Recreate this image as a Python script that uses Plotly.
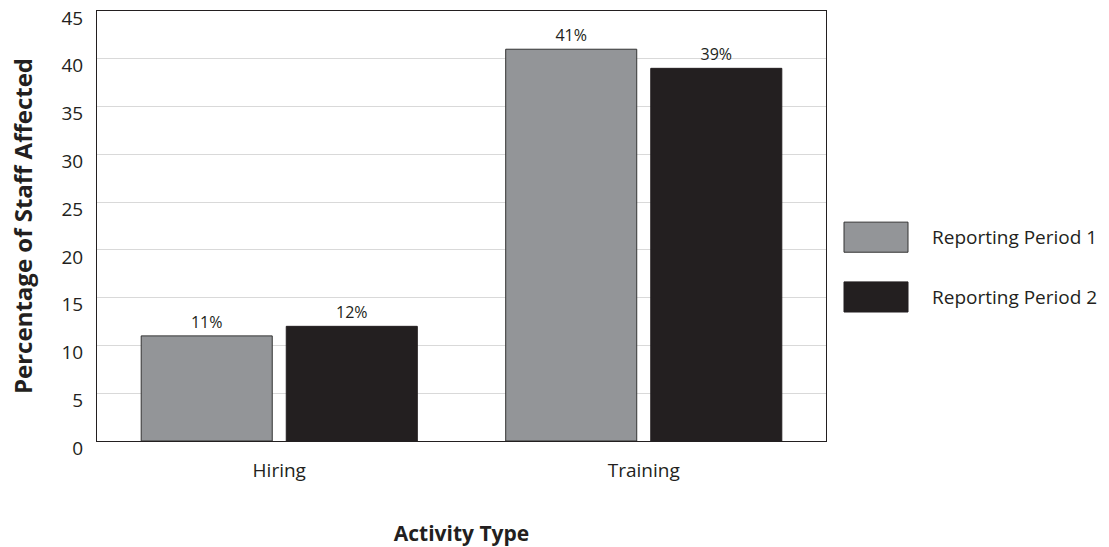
import plotly.graph_objects as go

# Chart data
categories = ["Hiring", "Training"]
period_names = ["Reporting Period 1", "Reporting Period 2"]
period1 = [11, 41]
period2 = [12, 39]
y_ticks = [0, 5, 10, 15, 20, 25, 30, 35, 40, 45]

FONT = "Open Sans, Noto Sans, sans-serif"
colors = ["#939598", "#231f20"]
outlines = ["#333333", "#231f20"]

fig = go.Figure()
for name, vals, col, ol in zip(period_names, [period1, period2], colors, outlines):
    fig.add_trace(go.Bar(
        x=categories, y=vals, name=name,
        marker=dict(color=col, line=dict(color=ol, width=1)),
        text=[f"{v}%" for v in vals], textposition="outside",
        textfont=dict(family=FONT, size=16, color="#231f20"),
        cliponaxis=False, showlegend=False,
    ))

# Legend drawn with large swatches to the right of the plot
legend_y = [0.474, 0.335]
for name, col, ol, yc in zip(period_names, colors, outlines, legend_y):
    fig.add_shape(type="rect", xref="paper", yref="paper",
                  x0=1.0247, x1=1.1125, y0=yc - 0.035, y1=yc + 0.035,
                  fillcolor=col, line=dict(color=ol, width=1))
    fig.add_annotation(xref="paper", yref="paper", x=1.143, y=yc,
                       text=name, showarrow=False, xanchor="left",
                       font=dict(family=FONT, size=19, color="#231f20"))

fig.update_layout(
    width=1109, height=547,
    margin=dict(l=97, r=283, t=11, b=106),
    paper_bgcolor="white", plot_bgcolor="white",
    barmode="group", bargap=0.204, bargroupgap=0.0966,
    font=dict(family=FONT, size=19, color="#231f20"),
    xaxis=dict(
        title=dict(text="<b>Activity Type</b>", font=dict(size=21), standoff=44),
        showline=True, linecolor="#231f20", linewidth=1, mirror=True,
        ticks="outside", ticklen=12, tickcolor="rgba(0,0,0,0)",
        tickfont=dict(size=19), automargin=False,
    ),
    yaxis=dict(
        title=dict(text="<b>Percentage of Staff Affected</b>", font=dict(size=24), standoff=22),
        range=[0, 45], tickvals=y_ticks, showgrid=True, gridcolor="#d9d9d9",
        showline=True, linecolor="#231f20", linewidth=1, mirror=True,
        ticks="outside", ticklen=9, tickcolor="rgba(0,0,0,0)",
        tickfont=dict(size=19), zeroline=False, ticklabeloverflow="allow",
        ticklabelshift=7, automargin=False,
    ),
)

fig.write_html("out.html")
